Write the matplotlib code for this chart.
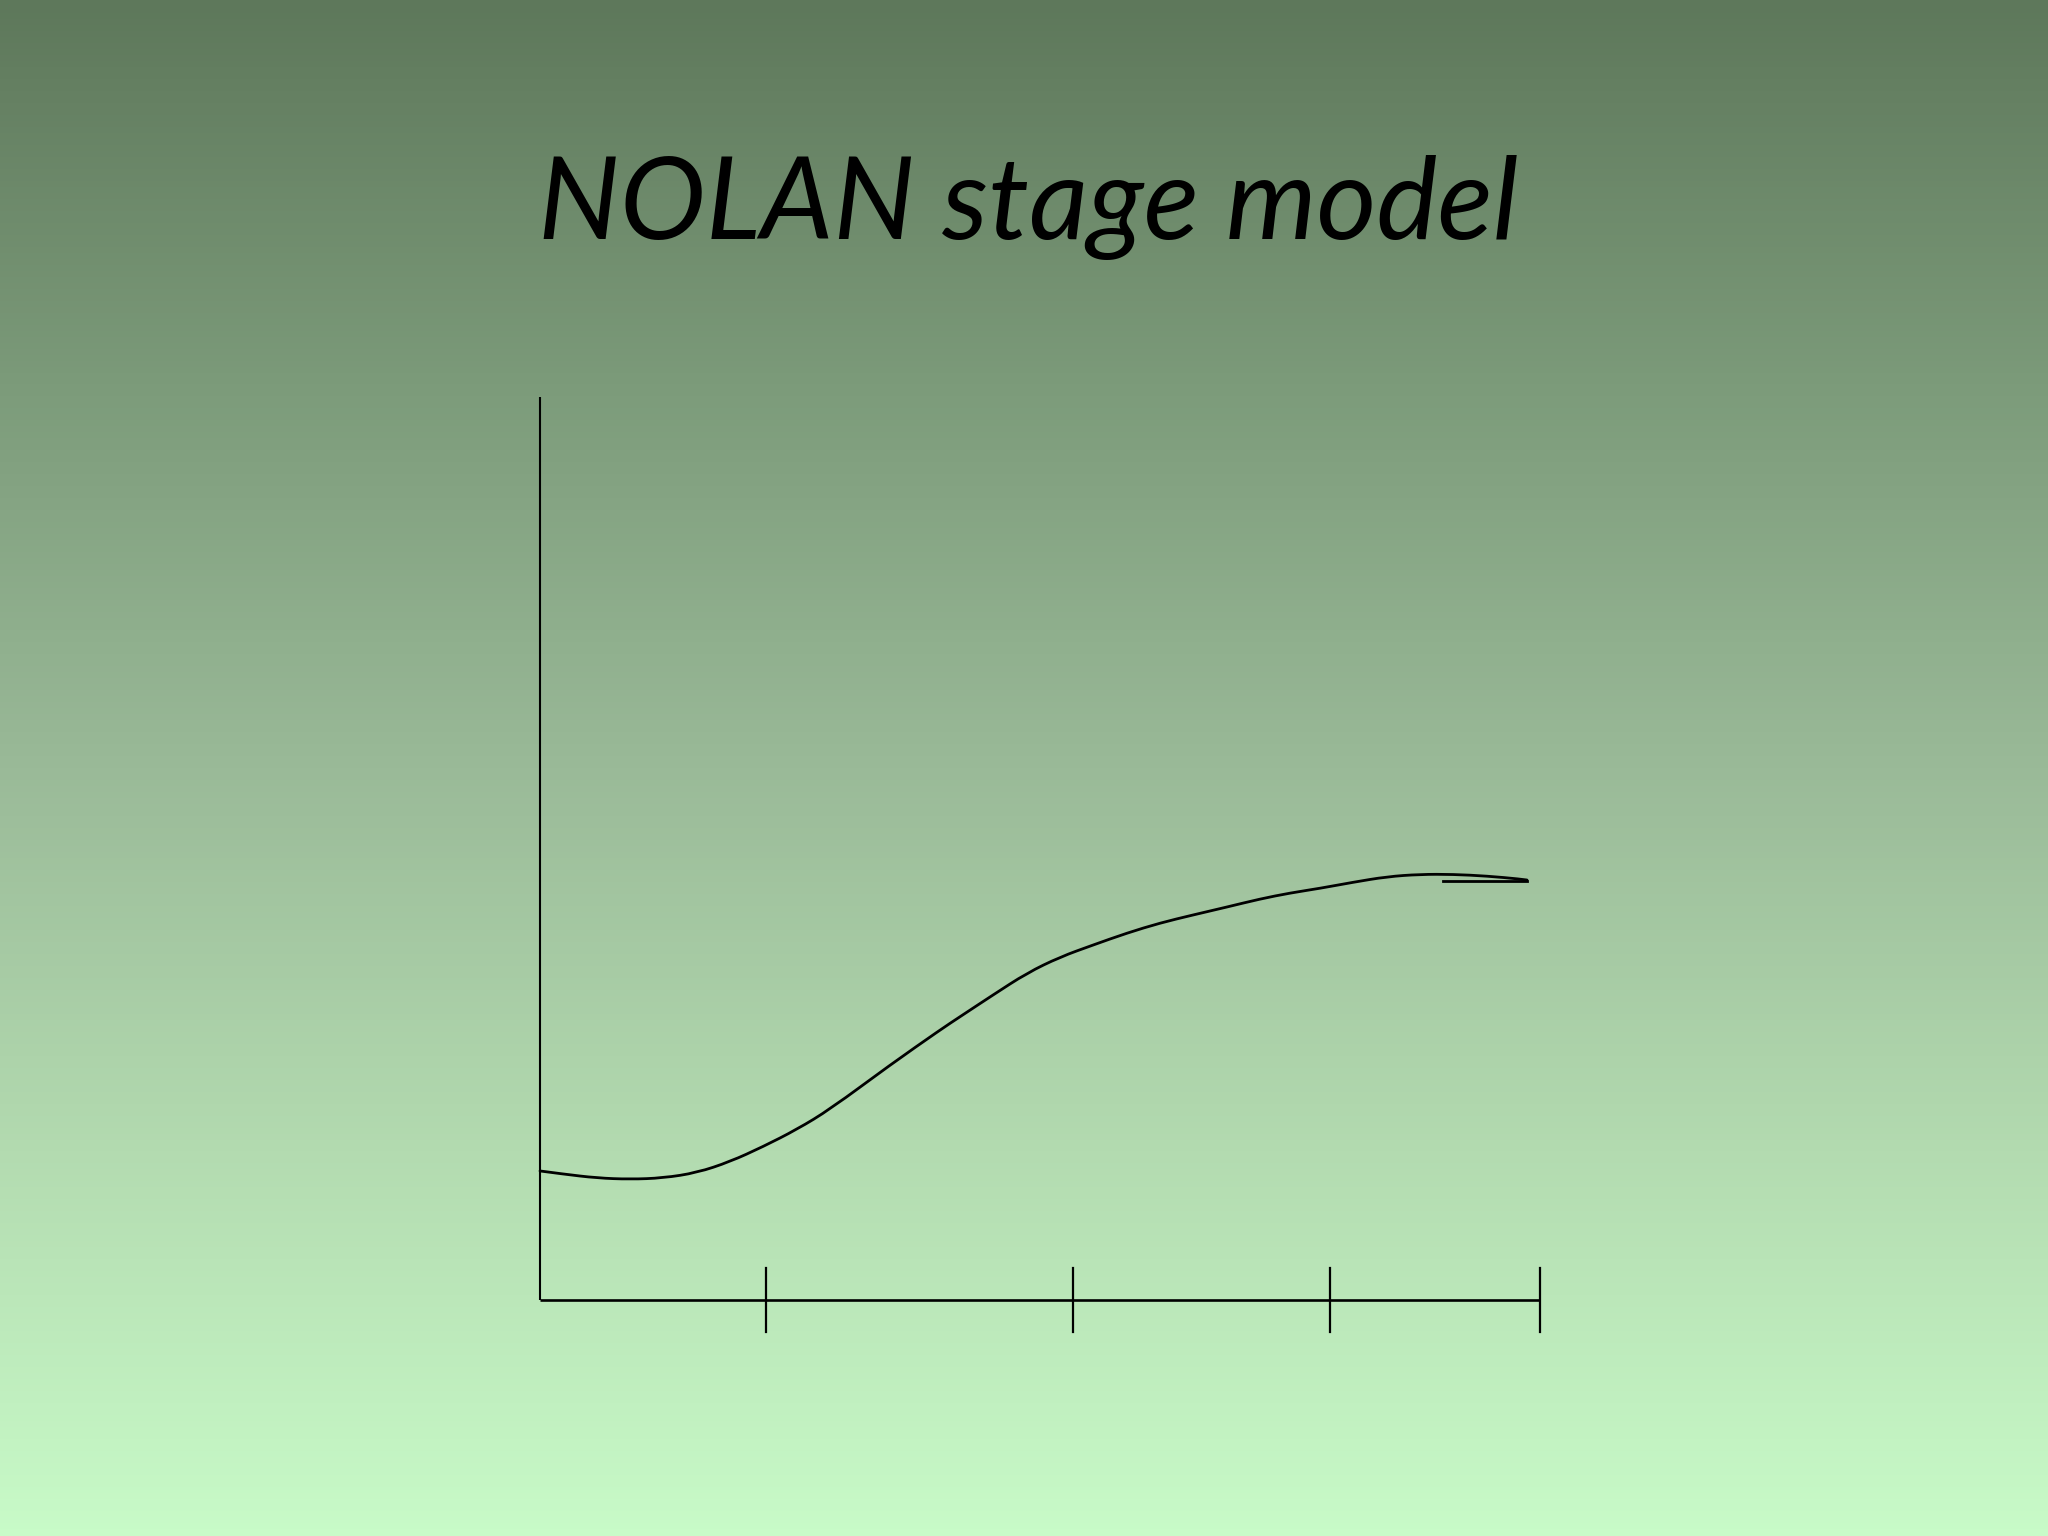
import numpy as np
import matplotlib
matplotlib.use("Agg")
import matplotlib.pyplot as plt
from matplotlib.colors import LinearSegmentedColormap
from matplotlib.path import Path
from matplotlib.patches import PathPatch

title = "NOLAN stage model"

# Curve (conceptual growth curve), x and y in 0..100 axis units
curve_x = [0.0, 2.3, 5.7, 9.0, 12.3, 15.7, 19.0, 22.3, 25.7, 29.0, 35.0, 40.0,
           42.0, 45.3, 48.7, 52.0, 55.3, 58.7, 62.0, 65.3, 68.7, 72.0, 75.0,
           78.0, 81.3, 84.7, 88.0, 91.3, 94.7, 98.0, 98.7]
curve_y = [14.29, 13.95, 13.51, 13.37, 13.51, 14.10, 15.32, 16.98, 18.90, 21.12,
           26.02, 29.90, 31.37, 33.78, 36.21, 37.98, 39.31, 40.64, 41.75, 42.64,
           43.52, 44.41, 45.07, 45.59, 46.26, 46.88, 47.14, 47.14, 46.95, 46.62,
           46.51]

# short horizontal stroke at the curve's end
end_stroke_x = [90.3, 98.7]
end_stroke_y = [46.43, 46.43]

# stage boundaries on the x axis
stage_ticks = [22.6, 53.3, 79.0, 100.0]

W, H = 2048, 1536
fig = plt.figure(figsize=(W / 100, H / 100), dpi=100)

# background gradient
bg = fig.add_axes([0, 0, 1, 1], zorder=0)
cmap = LinearSegmentedColormap.from_list(
    "bg", ["#5e785b", "#7c9b7a", "#9aba98", "#b3dbb0", "#c8fbc8"])
grad = np.linspace(0, 1, 512).reshape(-1, 1)
bg.imshow(grad, aspect="auto", cmap=cmap, extent=[0, 1, 1, 0])
bg.set_axis_off()

ax = fig.add_axes([540 / W, (H - 1300) / H, 1000 / W, (1300 - 397) / H], zorder=1)
ax.set_xlim(0, 100)
ax.set_ylim(0, 100)
ax.patch.set_alpha(0)
for s in ax.spines.values():
    s.set_visible(False)
ax.set_xticks([])
ax.set_yticks([])

lw_axis = 1.5
ax.plot([0, 0], [0, 100], color="black", lw=lw_axis, solid_capstyle="butt", clip_on=False)
ax.plot([0, 100], [0, 0], color="black", lw=lw_axis + 0.4, solid_capstyle="butt", clip_on=False)
tick_half = 32 / 9.03
for t in stage_ticks:
    ax.plot([t, t], [-tick_half, tick_half], color="black", lw=1.6, clip_on=False)

# smooth curve: read points used as quadratic B-spline control points
pts = np.column_stack([curve_x, curve_y])
verts = [pts[0]]
codes = [Path.MOVETO]
for i in range(1, len(pts) - 1):
    verts.append(pts[i])
    end = pts[-1] if i == len(pts) - 2 else (pts[i] + pts[i + 1]) / 2
    verts.append(end)
    codes += [Path.CURVE3, Path.CURVE3]
curve_path = Path(np.array(verts), codes)
ax.add_patch(PathPatch(curve_path, facecolor="none", edgecolor="black", lw=2.0,
                       capstyle="round", joinstyle="round", clip_on=False))

ax.plot(end_stroke_x, end_stroke_y, color="black", lw=2.0, clip_on=False)

fig.text(0.502, 1 - 239 / H, title, fontsize=83, fontstyle="italic",
         family=["Lato", "DejaVu Sans"], ha="center", va="baseline", color="black")

fig.savefig("out.png", dpi=100)
